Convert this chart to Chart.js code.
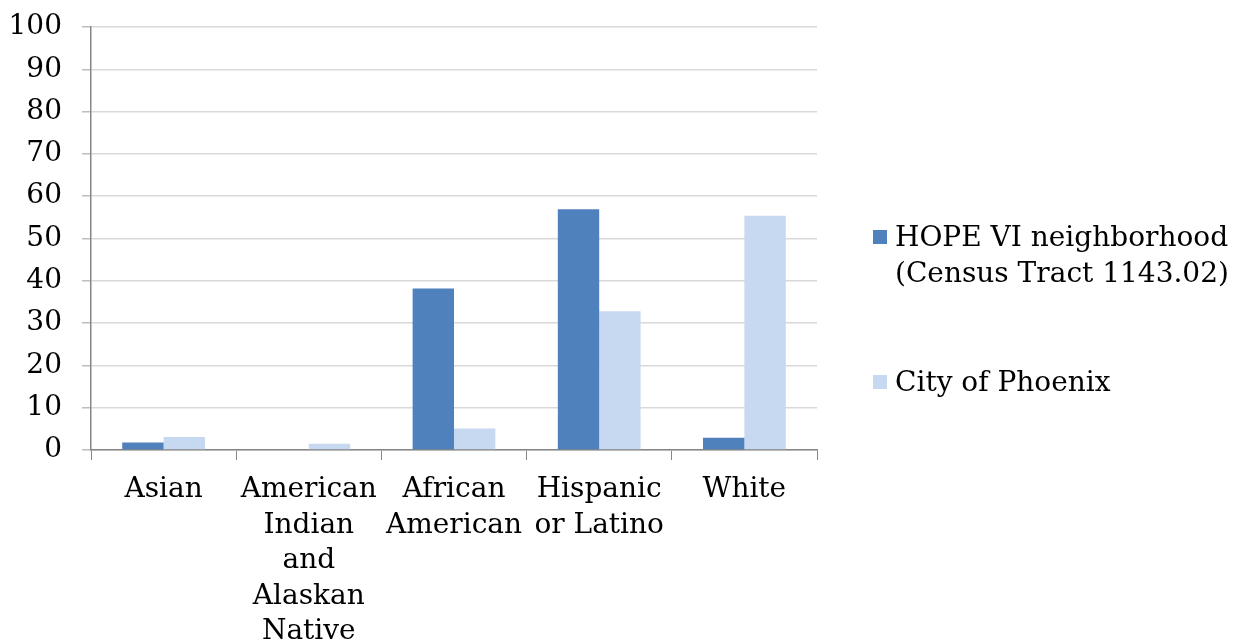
<!DOCTYPE html>
<html>
<head>
<meta charset="utf-8">
<script src="https://cdn.jsdelivr.net/npm/chart.js@4/dist/chart.umd.min.js"></script>
<style>
  html, body { margin: 0; padding: 0; background: #fff; }
  #wrap { position: relative; width: 1235px; height: 644px; }
  #legend { position: absolute; left: 873px; top: 0; font-family: 'DejaVu Serif', serif; font-size: 28px; color: #000; }
  .item { position: absolute; white-space: nowrap; line-height: 36px; }
  .sw { position: absolute; left: 0; width: 14px; height: 14px; }
  .txt { position: absolute; left: 22px; }
</style>
</head>
<body>
<div id="wrap">
  <canvas id="c" width="1235" height="644"></canvas>
  <div id="legend"></div>
</div>
<script>
// ─── data ───
const CATEGORIES = [
  ['Asian'],
  ['American', 'Indian', 'and', 'Alaskan', 'Native'],
  ['African', 'American'],
  ['Hispanic', 'or Latino'],
  ['White'],
];
const SERIES_NAMES = [
  ['HOPE VI neighborhood', '(Census Tract 1143.02)'],
  ['City of Phoenix'],
];
const HOPE_VI   = [1.8, 0, 38.2, 56.9, 2.9];
const PHOENIX   = [3.1, 1.5, 5.1, 32.8, 55.4];
const Y_TICKS   = [0, 10, 20, 30, 40, 50, 60, 70, 80, 90, 100];

const COLORS = { hope: '#4f81bd', city: '#c6d9f1', grid: '#d9d9d9', axis: '#868686' };
const FONT = { family: "'DejaVu Serif', serif", size: 28 };

new Chart(document.getElementById('c').getContext('2d'), {
  type: 'bar',
  data: {
    labels: CATEGORIES,
    datasets: [
      { label: SERIES_NAMES[0].join(' '), data: HOPE_VI, backgroundColor: COLORS.hope },
      { label: SERIES_NAMES[1].join(' '), data: PHOENIX, backgroundColor: COLORS.city },
    ],
  },
  options: {
    responsive: false, animation: false,
    categoryPercentage: 0.57, barPercentage: 1,
    layout: { padding: { top: 23, right: 418, left: 0, bottom: 0 } },
    plugins: { legend: { display: false }, tooltip: { enabled: false } },
    scales: {
      x: {
        grid: { offset: true, drawOnChartArea: false, tickLength: 10, color: COLORS.axis },
        border: { color: COLORS.axis, width: 1.5 },
        ticks: { color: '#000', font: { ...FONT, lineHeight: 1.27 }, padding: 12, maxRotation: 0, autoSkip: false },
        afterFit: s => { s.height = 644 - 450; },
      },
      y: {
        min: 0, max: 100,
        afterBuildTicks: s => { s.ticks = Y_TICKS.map(v => ({ value: v })); },
        grid: { color: COLORS.grid, lineWidth: 1.5, tickLength: 9, tickColor: '#bdbdbd' },
        border: { color: COLORS.axis, width: 1.5 },
        ticks: { color: '#000', font: { ...FONT, lineHeight: 0.5 }, padding: 20 },
        afterFit: s => { s.width = 91; },
      },
    },
  },
});

// ─── legend (html) ───
const legend = document.getElementById('legend');
const LEG_TOPS = [219, 364];
SERIES_NAMES.forEach((lines, i) => {
  const it = document.createElement('div');
  it.className = 'item';
  it.style.top = LEG_TOPS[i] + 'px';
  it.innerHTML = `<div class="sw" style="top:11px;background:${i ? COLORS.city : COLORS.hope}"></div>` +
    `<div class="txt">${lines.join('<br>')}</div>`;
  legend.appendChild(it);
});
</script>
</body>
</html>
